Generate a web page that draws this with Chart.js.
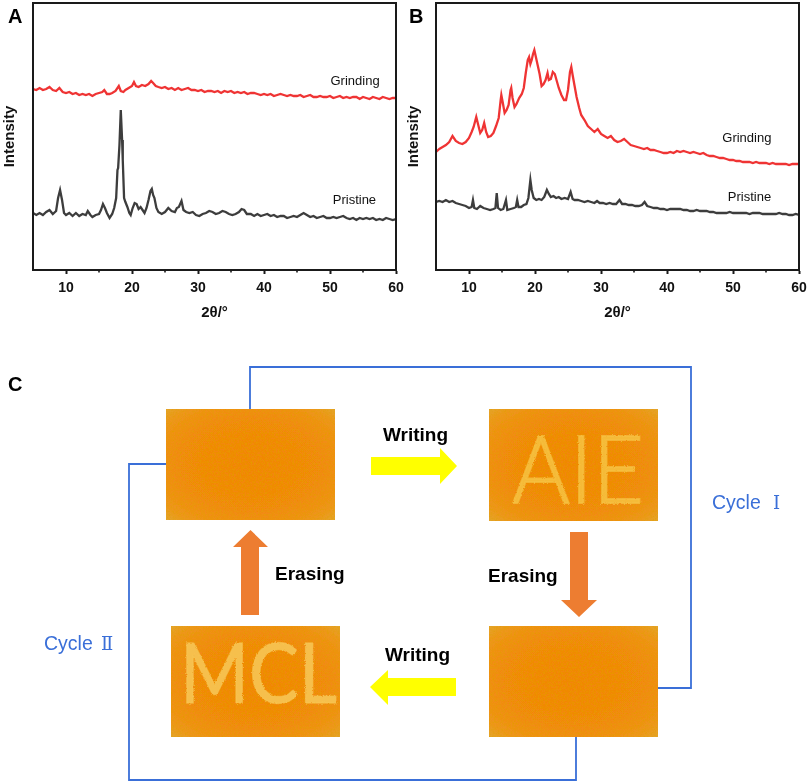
<!DOCTYPE html>
<html>
<head>
<meta charset="utf-8">
<script src="https://cdn.jsdelivr.net/npm/chart.js@4.4.1/dist/chart.umd.min.js"></script>
<style>
  html, body { margin:0; padding:0; background:#fff; }
  body { width:809px; height:783px; position:relative; overflow:hidden; font-family:"Liberation Sans", Arial, sans-serif; }
  .wrap { position:absolute; top:0; height:325px; }
</style>
</head>
<body>
<div class="wrap" style="left:0;width:404px"><canvas id="chartA"></canvas></div>
<div class="wrap" style="left:404px;width:405px"><canvas id="chartB"></canvas></div>

<svg width="809" height="783" style="position:absolute;left:0;top:0;pointer-events:none" font-family="Liberation Sans, Arial, sans-serif">
  <defs>
    <radialGradient id="og" cx="50%" cy="50%" r="72%">
      <stop offset="0" stop-color="#F2860F"/>
      <stop offset="0.6" stop-color="#F28A12"/>
      <stop offset="0.85" stop-color="#EE961C"/>
      <stop offset="1" stop-color="#E2A82E"/>
    </radialGradient>
    <filter id="grain" x="0" y="0" width="100%" height="100%">
      <feTurbulence type="fractalNoise" baseFrequency="0.55" numOctaves="2" seed="3" result="n"/>
      <feColorMatrix in="n" type="matrix" values="0 0 0 0 0.75  0 0 0 0 0.35  0 0 0 0 0.0  0 0 0 1.4 -0.55" result="c"/>
      <feComposite in="c" in2="SourceGraphic" operator="in" result="g"/>
      <feMerge><feMergeNode in="SourceGraphic"/><feMergeNode in="g"/></feMerge>
    </filter>
    <filter id="chalk" x="-5%" y="-5%" width="110%" height="110%">
      <feTurbulence type="fractalNoise" baseFrequency="0.9" numOctaves="1" seed="7" result="n"/>
      <feDisplacementMap in="SourceGraphic" in2="n" scale="3" xChannelSelector="R" yChannelSelector="G"/>
    </filter>
  </defs>
  <text x="8" y="23" font-size="20" font-weight="bold" fill="#000">A</text>
  <text x="409" y="23" font-size="20" font-weight="bold" fill="#000">B</text>
  <text x="8" y="391" font-size="20" font-weight="bold" fill="#000">C</text>

  <!-- cycle connectors -->
  <polyline points="250,409 250,367 691,367 691,688 658,688" fill="none" stroke="#3A6FD8" stroke-width="1.8"/>
  <polyline points="166,464 129,464 129,780 576,780 576,737" fill="none" stroke="#3A6FD8" stroke-width="1.8"/>

  <!-- photos -->
  <rect x="166" y="409" width="169" height="111" fill="url(#og)" filter="url(#grain)"/>
  <rect x="489" y="409" width="169" height="112" fill="url(#og)" filter="url(#grain)"/>
  <rect x="489" y="626" width="169" height="111" fill="url(#og)" filter="url(#grain)"/>
  <rect x="171" y="626" width="169" height="111" fill="url(#og)" filter="url(#grain)"/>
  <text x="512" y="503" font-size="94" font-family="Lato, 'Open Sans', sans-serif" font-weight="300" fill="#F6C040" fill-opacity="0.88" stroke="#F6C040" stroke-opacity="0.75" stroke-width="2" textLength="132" lengthAdjust="spacingAndGlyphs" filter="url(#chalk)">AIE</text>
  <text x="180" y="703" font-size="84" font-family="Lato, 'Open Sans', sans-serif" font-weight="400" fill="#F7C655" fill-opacity="0.88" stroke="#F7C655" stroke-opacity="0.6" stroke-width="1.5" textLength="157" lengthAdjust="spacingAndGlyphs" filter="url(#chalk)">MCL</text>

  <!-- arrows -->
  <polygon points="371,457 440,457 440,448 457,466 440,484 440,475 371,475" fill="#FFFF00"/>
  <polygon points="370,687 388,670 388,678 456,678 456,696 388,696 388,705" fill="#FFFF00"/>
  <polygon points="250.5,530 268,547 259,547 259,615 241,615 241,547 233,547" fill="#ED7D31"/>
  <polygon points="570,532 588,532 588,600 597,600 579,617 561,600 570,600" fill="#ED7D31"/>

  <text x="383" y="441" font-size="19" font-weight="bold" fill="#000">Writing</text>
  <text x="385" y="661" font-size="19" font-weight="bold" fill="#000">Writing</text>
  <text x="275" y="580" font-size="19" font-weight="bold" fill="#000">Erasing</text>
  <text x="488" y="582" font-size="19" font-weight="bold" fill="#000">Erasing</text>

  <text x="712" y="509" font-size="19.5" fill="#3A6FD8">Cycle</text>
  <text x="773" y="509" font-size="18" fill="#3A6FD8" font-family="DejaVu Serif, serif">Ⅰ</text>
  <text x="44" y="650" font-size="19.5" fill="#3A6FD8">Cycle</text>
  <text x="101" y="650" font-size="18" fill="#3A6FD8" font-family="DejaVu Serif, serif">Ⅱ</text>
</svg>

<script>
// ---------------- DATA ----------------
// x axis: 2θ (degrees); y: relative intensity (arbitrary units, 0..267)
const xTickLabels = [10, 20, 30, 40, 50, 60];
const xMinorTicks = [15, 25, 35, 45, 55];

const pristineA = [[5,57],[5.5,55],[6,57],[6.5,55],[7,58],[7.5,60],[8,56],[8.5,59],[8.8,72],[9.1,80],[9.4,70],[9.7,57],[10,55],[10.5,57],[11,54],[11.5,57],[12,54],[12.5,56],[13,55],[13.3,59],[13.7,55],[14,53],[14.5,55],[15,56],[15.3,60],[15.6,66],[15.9,62],[16.2,57],[16.6,52],[17,56],[17.3,62],[17.6,72],[17.8,100],[17.9,102],[18.1,125],[18.3,160],[18.5,130],[18.6,110],[18.8,72],[19,68],[19.3,63],[19.6,57],[19.8,55],[20.1,62],[20.4,67],[20.7,66],[21,61],[21.3,63],[21.6,60],[21.9,57],[22.2,62],[22.5,70],[22.8,79],[23,81],[23.2,75],[23.4,72],[23.7,62],[24,58],[24.5,56],[25,58],[25.5,62],[26,59],[26.5,58],[26.8,62],[27.1,63],[27.5,69],[27.8,60],[28.2,58],[28.7,57],[29.2,58],[29.7,55],[30.2,54],[30.7,56],[31.2,57],[31.7,59],[32.2,58],[32.7,56],[33.2,57],[33.7,59],[34.2,58],[34.7,56],[35.2,55],[35.7,56],[36.2,58],[36.6,61],[37,60],[37.4,56],[38,56],[38.5,54],[39,56],[39.5,54],[40,55],[40.5,56],[41,54],[41.5,55],[42,53],[42.5,54],[43,54],[43.5,52],[44,53],[44.5,54],[45,53],[45.5,55],[46,57],[46.5,55],[47,53],[47.5,54],[48,52],[48.5,53],[49,54],[49.5,52],[50,52],[50.5,53],[51,52],[51.5,53],[52,54],[52.5,52],[53,51],[53.5,52],[54,50],[54.5,52],[55,51],[55.5,52],[56,51],[56.5,52],[57,50],[57.5,51],[58,50],[58.5,52],[59,51],[59.5,50],[60,51]];

const grindingA = [[5,181],[5.5,180],[6,182],[6.5,180],[7,181],[7.5,183],[8,180],[8.5,179],[9,182],[9.5,178],[10,177],[10.5,178],[11,176],[11.5,177],[12,175],[12.5,176],[13,175],[13.5,176],[14,174],[14.5,176],[15,177],[15.5,178],[15.8,180],[16.2,176],[16.6,176],[17,177],[17.5,179],[18,184],[18.3,179],[18.7,178],[19,180],[19.5,182],[20,184],[20.3,188],[20.6,184],[21,183],[21.5,185],[22,184],[22.5,186],[22.9,189],[23.2,187],[23.6,184],[24,183],[24.5,182],[25,183],[25.5,181],[26,182],[26.5,180],[27,182],[27.5,180],[28,181],[28.5,182],[29,180],[29.5,180],[30,179],[30.5,180],[31,178],[31.5,179],[32,179],[32.5,178],[33,179],[33.5,177],[34,179],[34.5,178],[35,179],[35.5,177],[36,178],[36.5,177],[37,178],[37.5,176],[38,177],[38.5,177],[39,176],[39.5,175],[40,176],[40.5,175],[41,176],[41.5,174],[42,175],[42.5,176],[43,175],[43.5,174],[44,175],[44.5,174],[45,174],[45.5,175],[46,173],[46.5,174],[47,175],[47.5,173],[48,173],[48.5,174],[49,173],[49.5,173],[50,174],[50.5,172],[51,173],[51.5,174],[52,172],[52.5,173],[53,172],[53.5,173],[54,173],[54.5,171],[55,173],[55.5,172],[56,171],[56.5,173],[57,172],[57.5,171],[58,173],[58.5,172],[59,171],[59.5,172],[60,172]];

const grindingB = [[5,118],[5.5,121],[6,123],[6.5,125],[7,128],[7.5,134],[8,129],[8.5,127],[9,126],[9.5,128],[10,132],[10.4,138],[10.7,143],[11.1,153],[11.4,145],[11.7,137],[12,140],[12.3,147],[12.6,138],[12.9,133],[13.3,134],[13.7,137],[14.1,144],[14.5,152],[14.8,170],[14.9,175],[15.1,168],[15.4,157],[15.7,160],[16,165],[16.3,180],[16.4,182],[16.6,172],[16.9,163],[17.2,166],[17.6,172],[18,176],[18.3,182],[18.6,197],[18.9,210],[19.1,213],[19.3,206],[19.5,210],[19.7,216],[19.9,220],[20.1,214],[20.4,205],[20.7,196],[21,184],[21.3,186],[21.6,190],[21.9,197],[22.1,190],[22.4,191],[22.7,198],[23,196],[23.3,189],[23.6,182],[24,175],[24.4,170],[24.7,170],[25,180],[25.3,198],[25.5,203],[25.7,195],[26,184],[26.3,173],[26.7,162],[27,155],[27.5,150],[28,144],[28.5,141],[29,138],[29.5,141],[30,136],[30.5,134],[31,132],[31.5,134],[32,130],[32.5,128],[33,129],[33.5,131],[34,128],[34.5,125],[35,124],[35.5,123],[36,122],[36.5,121],[37,122],[37.5,120],[38,120],[38.5,119],[39,118],[39.5,117],[40,117],[40.5,118],[41,117],[41.5,119],[42,118],[42.5,119],[43,118],[43.5,117],[44,118],[44.5,117],[45,116],[45.5,117],[46,115],[46.5,114],[47,114],[47.5,113],[48,112],[48.5,112],[49,111],[49.5,110],[50,110],[50.5,109],[51,109],[51.5,108],[52,108],[52.5,108],[53,107],[53.5,108],[54,107],[54.5,107],[55,107],[55.5,106],[56,107],[56.5,106],[57,106],[57.5,106],[58,106],[58.5,105],[59,106],[59.5,106],[60,106]];

const pristineB = [[5,68],[5.5,69],[6,68],[6.5,70],[7,68],[7.5,69],[8,67],[8.5,66],[9,65],[9.5,64],[10,62],[10.4,63],[10.6,70],[10.8,62],[11.2,61],[11.7,64],[12.2,62],[12.7,61],[13.2,60],[13.7,61],[14,62],[14.2,77],[14.4,62],[14.8,60],[15.2,61],[15.6,70],[15.8,60],[16.3,61],[16.8,62],[17.1,63],[17.3,70],[17.5,63],[17.9,63],[18.3,65],[18.7,66],[19,72],[19.3,90],[19.5,80],[19.8,72],[20.2,70],[20.6,71],[21,70],[21.4,73],[21.8,80],[22.1,76],[22.4,73],[22.8,74],[23.2,72],[23.6,73],[24,71],[24.5,72],[25,71],[25.4,78],[25.7,71],[26,70],[26.5,70],[27,69],[27.5,68],[28,69],[28.5,68],[29,67],[29.4,69],[29.8,67],[30.3,67],[30.8,66],[31.3,67],[31.8,66],[32.3,66],[32.8,70],[33.2,66],[33.7,66],[34.2,65],[34.7,65],[35.2,64],[35.7,64],[36.2,65],[36.6,68],[37,64],[37.5,63],[38,62],[38.5,62],[39,61],[39.5,61],[40,60],[40.5,61],[41,61],[41.5,61],[42,61],[42.5,60],[43,60],[43.5,59],[44,59],[44.5,60],[45,59],[45.5,59],[46,59],[46.5,58],[47,58],[47.5,57],[48,57],[48.5,57],[49,57],[49.5,58],[50,57],[50.5,57],[51,57],[51.5,57],[52,57],[52.5,56],[53,57],[53.5,57],[54,57],[54.5,56],[55,56],[55.5,56],[56,56],[56.5,56],[57,57],[57.5,56],[58,56],[58.5,55],[59,55],[59.5,56],[60,55]];

// series labels: [text, x(2θ), y(intensity)]
const seriesLabelsA = [["Grinding", 53.8, 189], ["Pristine", 53.7, 70]];
const seriesLabelsB = [["Grinding", 52.1, 132], ["Pristine", 52.5, 73]];

// ---------------- CHARTS ----------------
const FONT = "'Liberation Sans', Arial, sans-serif";
const RED = '#EF3434';
const GREY = '#3d3d3d';

const framePlugin = {
  id: 'frameAndLabels',
  afterDraw(chart, args, opts) {
    const {ctx, chartArea: a, scales} = chart;
    ctx.save();
    ctx.strokeStyle = '#1a1a1a';
    ctx.lineWidth = 2;
    ctx.strokeRect(a.left, a.top, a.right - a.left, a.bottom - a.top);
    ctx.lineWidth = 1.6;
    ctx.beginPath();
    (opts.minor || []).forEach(v => {
      const px = scales.x.getPixelForValue(v);
      ctx.moveTo(px, a.bottom);
      ctx.lineTo(px, a.bottom + 2.5);
    });
    ctx.stroke();
    ctx.fillStyle = '#111';
    ctx.font = '13px ' + FONT;
    ctx.textAlign = 'center';
    ctx.textBaseline = 'middle';
    (opts.labels || []).forEach(([t, x, y]) => {
      ctx.fillText(t, scales.x.getPixelForValue(x), scales.y.getPixelForValue(y));
    });
    ctx.restore();
  }
};

function toPts(arr) { return arr.map(([x, y]) => ({x, y})); }

function makeChart(id, grinding, pristine, labels, yWidth, padRight) {
  return new Chart(document.getElementById(id), {
    type: 'line',
    data: {
      datasets: [
        { label: 'Grinding', data: toPts(grinding), borderColor: RED, borderWidth: 2.3, pointRadius: 0, tension: 0 },
        { label: 'Pristine', data: toPts(pristine), borderColor: GREY, borderWidth: 2.3, pointRadius: 0, tension: 0 }
      ]
    },
    options: {
      responsive: true,
      maintainAspectRatio: false,
      animation: false,
      events: [],
      layout: { padding: { left: 0, top: 3, right: padRight, bottom: 0 } },
      plugins: {
        legend: { display: false },
        tooltip: { enabled: false },
        frameAndLabels: { labels, minor: xMinorTicks }
      },
      scales: {
        x: {
          type: 'linear', min: 5, max: 60,
          afterFit(s) { s.height = 55; s.paddingLeft = 0; s.paddingRight = 0; },
          afterBuildTicks(s) { s.ticks = xTickLabels.map(v => ({ value: v })); },
          ticks: { color: '#111', font: { family: FONT, size: 14, weight: 'bold' }, padding: 6, maxRotation: 0, autoSkip: false },
          grid: { drawOnChartArea: false, drawTicks: true, tickLength: 4, tickWidth: 2, tickColor: '#1a1a1a' },
          border: { display: true, color: '#1a1a1a', width: 2 },
          title: { display: true, text: '2θ/°', color: '#111', font: { family: FONT, size: 15, weight: 'bold' }, padding: { top: 0, bottom: 3 } }
        },
        y: {
          type: 'linear', min: 0, max: 267,
          afterFit(s) { s.width = yWidth; s.paddingTop = 0; s.paddingBottom = 0; },
          ticks: { display: false },
          grid: { display: false, drawTicks: false },
          border: { display: true, color: '#1a1a1a', width: 2 },
          title: { display: true, text: 'Intensity', color: '#111', font: { family: FONT, size: 15, weight: 'bold' }, padding: { top: 1, bottom: 0 } }
        }
      }
    },
    plugins: [framePlugin]
  });
}

makeChart('chartA', grindingA, pristineA, seriesLabelsA, 33, 8);
makeChart('chartB', grindingB, pristineB, seriesLabelsB, 32, 10);
</script>
</body>
</html>
